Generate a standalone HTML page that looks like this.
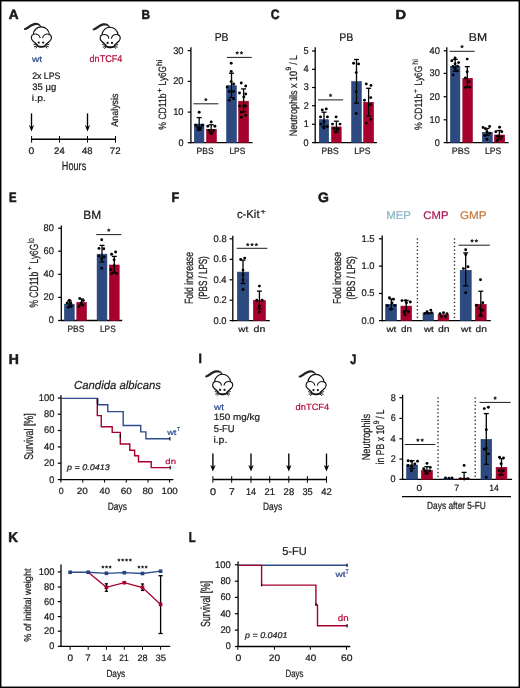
<!DOCTYPE html>
<html><head><meta charset="utf-8"><style>
html,body{margin:0;padding:0;background:#fff;}
body{width:520px;height:688px;overflow:hidden;position:relative;}
svg{position:absolute;left:0;top:0;display:block;}
text{font-family:"Liberation Sans", sans-serif;text-rendering:geometricPrecision;}
</style></head><body>
<div style="position:absolute;left:0;top:0;width:520px;height:688px;will-change:transform">
<svg width="520" height="688" viewBox="0 0 520 688">
<defs><symbol id="mouse" viewBox="0 0 520 462" overflow="visible">
<path d="M54,120 C96,118 138,54 205,42 C254,34 292,56 308,96 L294,102 C280,76 254,70 214,74 C160,84 116,142 62,144 Z" fill="#222"/>
<path d="M192,208 C196,142 246,100 305,99 C366,99 416,142 424,210" fill="none" stroke="#111" stroke-width="17"/>
<path d="M196,206 C162,214 152,266 182,298 C204,320 228,340 256,364 M422,208 C458,216 466,266 436,298 C414,320 390,340 362,364" fill="none" stroke="#111" stroke-width="17"/>
<path d="M198,206 C242,194 284,212 292,262" fill="none" stroke="#111" stroke-width="15"/>
<path d="M326,262 C334,212 376,194 420,208" fill="none" stroke="#111" stroke-width="15"/>
<circle cx="271" cy="326" r="16" fill="#111"/><circle cx="335" cy="326" r="16" fill="#111"/>
<path d="M238,350 C270,382 348,382 380,350 L364,390 C340,406 278,406 254,390 Z" fill="#111"/>
<path d="M250,364 L194,348 M250,374 L202,388 M254,382 L224,408 M368,364 L424,348 M368,374 L416,388 M364,382 L394,408" stroke="#1a1a1a" stroke-width="14" fill="none"/>
</symbol></defs>
<rect x="0" y="0" width="520" height="1" fill="#000"/><rect x="0" y="687" width="520" height="1" fill="#000"/><rect x="0" y="0" width="1" height="688" fill="#000"/><rect x="519" y="0" width="1" height="688" fill="#000"/><rect x="1" y="1" width="518" height="0.45" fill="#000"/><rect x="1" y="686.55" width="518" height="0.45" fill="#000"/><rect x="1" y="1" width="0.45" height="686" fill="#000"/><rect x="518.55" y="1" width="0.45" height="686" fill="#000"/>
<g fill="#1a1a1a">
<text x="8.85" y="19.23" font-size="13.37" textLength="9.83" lengthAdjust="spacingAndGlyphs" stroke="#1a1a1a" stroke-width="0.55" font-weight="bold">A</text>
<use href="#mouse" x="20" y="20" width="36" height="32"/>
<use href="#mouse" x="88.8" y="20.4" width="36" height="32"/>
<text x="32.01" y="62.49" font-size="8.33" textLength="10.07" lengthAdjust="spacingAndGlyphs" fill="#2e4c8c" stroke="#2e4c8c" stroke-width="0.22">wt</text>
<text x="89.56" y="62.29" font-size="9.77" textLength="32.74" lengthAdjust="spacingAndGlyphs" fill="#b4103e" stroke="#b4103e" stroke-width="0.22">dnTCF4</text>
<text x="32.15" y="78.89" font-size="9.43" textLength="28.36" lengthAdjust="spacingAndGlyphs" stroke="#1a1a1a" stroke-width="0.22">2x LPS</text>
<text x="32.23" y="89.69" font-size="9.43" textLength="24.06" lengthAdjust="spacingAndGlyphs" stroke="#1a1a1a" stroke-width="0.22">35 µg</text>
<text x="31.89" y="101.09" font-size="8.80" textLength="14.04" lengthAdjust="spacingAndGlyphs" stroke="#1a1a1a" stroke-width="0.22">i.p.</text>
<text x="117.99" y="126.63" font-size="9.85" textLength="33.08" lengthAdjust="spacingAndGlyphs" transform="rotate(-90 117.99 126.63)" stroke="#1a1a1a" stroke-width="0.22">Analysis</text>
<line x1="31.5" y1="113.4" x2="31.5" y2="128.5" stroke="#000" stroke-width="1.35"/>
<path d="M28.80,125.10 L31.50,131.50 L34.20,125.10 L31.50,126.90 Z" fill="#000"/>
<line x1="87.5" y1="113.4" x2="87.5" y2="128.5" stroke="#000" stroke-width="1.35"/>
<path d="M84.80,125.10 L87.50,131.50 L90.20,125.10 L87.50,126.90 Z" fill="#000"/>
<line x1="31.6" y1="139.2" x2="115.5" y2="139.2" stroke="#000" stroke-width="1.5"/>
<line x1="31.6" y1="136" x2="31.6" y2="142.7" stroke="#000" stroke-width="1.0"/>
<line x1="59.5" y1="136" x2="59.5" y2="142.7" stroke="#000" stroke-width="1.0"/>
<line x1="87.5" y1="136" x2="87.5" y2="142.7" stroke="#000" stroke-width="1.0"/>
<line x1="115.5" y1="136" x2="115.5" y2="142.7" stroke="#000" stroke-width="1.0"/>
<text x="28.59" y="154.09" font-size="9.57" textLength="5.82" lengthAdjust="spacingAndGlyphs" stroke="#1a1a1a" stroke-width="0.22">0</text>
<text x="54.12" y="154.09" font-size="9.57" textLength="10.54" lengthAdjust="spacingAndGlyphs" stroke="#1a1a1a" stroke-width="0.22">24</text>
<text x="82.08" y="154.09" font-size="9.57" textLength="10.53" lengthAdjust="spacingAndGlyphs" stroke="#1a1a1a" stroke-width="0.22">48</text>
<text x="109.81" y="154.09" font-size="9.57" textLength="10.79" lengthAdjust="spacingAndGlyphs" stroke="#1a1a1a" stroke-width="0.22">72</text>
<text x="61.84" y="169.79" font-size="12.33" textLength="24.37" lengthAdjust="spacingAndGlyphs" stroke="#1a1a1a" stroke-width="0.22">Hours</text>
<text x="141.47" y="18.98" font-size="13.01" textLength="8.55" lengthAdjust="spacingAndGlyphs" stroke="#1a1a1a" stroke-width="0.55" font-weight="bold">B</text>
<text x="214.64" y="40.59" font-size="11.45" textLength="13.87" lengthAdjust="spacingAndGlyphs" stroke="#1a1a1a" stroke-width="0.22">PB</text>
<line x1="190.9" y1="47.2" x2="190.9" y2="143.29999999999998" stroke="#000" stroke-width="1.3"/>
<line x1="190.3" y1="142.7" x2="252.5" y2="142.7" stroke="#000" stroke-width="1.3"/>
<line x1="187.70000000000002" y1="50.6" x2="190.9" y2="50.6" stroke="#000" stroke-width="1.2"/>
<text x="173.16" y="53.59" font-size="9.71" textLength="10.36" lengthAdjust="spacingAndGlyphs" stroke="#1a1a1a" stroke-width="0.22">30</text>
<line x1="187.70000000000002" y1="81.4" x2="190.9" y2="81.4" stroke="#000" stroke-width="1.2"/>
<text x="173.16" y="84.39" font-size="9.71" textLength="10.36" lengthAdjust="spacingAndGlyphs" stroke="#1a1a1a" stroke-width="0.22">20</text>
<line x1="187.70000000000002" y1="112.1" x2="190.9" y2="112.1" stroke="#000" stroke-width="1.2"/>
<text x="173.16" y="115.09" font-size="9.71" textLength="10.35" lengthAdjust="spacingAndGlyphs" stroke="#1a1a1a" stroke-width="0.22">10</text>
<line x1="187.70000000000002" y1="142.7" x2="190.9" y2="142.7" stroke="#000" stroke-width="1.2"/>
<text x="178.46" y="145.69" font-size="9.71" textLength="5.04" lengthAdjust="spacingAndGlyphs" stroke="#1a1a1a" stroke-width="0.22">0</text>
<text x="166.09" y="129.70" font-size="10.57" textLength="36.35" lengthAdjust="spacingAndGlyphs" transform="rotate(-90 166.09 129.70)" stroke="#1a1a1a" stroke-width="0.22">% CD11b</text>
<text x="161.89" y="92.54" font-size="7.24" textLength="4.28" lengthAdjust="spacingAndGlyphs" transform="rotate(-90 161.89 92.54)" stroke="#1a1a1a" stroke-width="0.22">+</text>
<text x="166.09" y="85.38" font-size="10.73" textLength="19.37" lengthAdjust="spacingAndGlyphs" transform="rotate(-90 166.09 85.38)" stroke="#1a1a1a" stroke-width="0.22">Ly6G</text>
<text x="162.19" y="65.95" font-size="7.97" textLength="6.38" lengthAdjust="spacingAndGlyphs" transform="rotate(-90 162.19 65.95)" stroke="#1a1a1a" stroke-width="0.22">hi</text>
<rect x="194.30" y="124.10" width="9.60" height="18.60" fill="#2d4a80" stroke="#1f3870" stroke-width="0.6"/>
<rect x="206.60" y="129.30" width="9.80" height="13.40" fill="#a8002c" stroke="#8e0024" stroke-width="0.6"/>
<rect x="226.70" y="85.70" width="9.60" height="57.00" fill="#2d4a80" stroke="#1f3870" stroke-width="0.6"/>
<rect x="238.70" y="101.20" width="9.90" height="41.50" fill="#a8002c" stroke="#8e0024" stroke-width="0.6"/>
<line x1="199.2" y1="117.6" x2="199.2" y2="130" stroke="#000" stroke-width="1.3"/>
<line x1="196.7" y1="117.6" x2="201.7" y2="117.6" stroke="#000" stroke-width="1.3"/>
<line x1="196.7" y1="130" x2="201.7" y2="130" stroke="#000" stroke-width="1.3"/>
<line x1="211.2" y1="124.7" x2="211.2" y2="133.3" stroke="#000" stroke-width="1.3"/>
<line x1="208.7" y1="124.7" x2="213.7" y2="124.7" stroke="#000" stroke-width="1.3"/>
<line x1="208.7" y1="133.3" x2="213.7" y2="133.3" stroke="#000" stroke-width="1.3"/>
<line x1="231.5" y1="73.2" x2="231.5" y2="97.6" stroke="#000" stroke-width="1.3"/>
<line x1="229.0" y1="73.2" x2="234.0" y2="73.2" stroke="#000" stroke-width="1.3"/>
<line x1="229.0" y1="97.6" x2="234.0" y2="97.6" stroke="#000" stroke-width="1.3"/>
<line x1="243.6" y1="88.9" x2="243.6" y2="112.1" stroke="#000" stroke-width="1.3"/>
<line x1="241.1" y1="88.9" x2="246.1" y2="88.9" stroke="#000" stroke-width="1.3"/>
<line x1="241.1" y1="112.1" x2="246.1" y2="112.1" stroke="#000" stroke-width="1.3"/>
<circle cx="199.2" cy="112.3" r="1.45" fill="#000"/>
<circle cx="195.8" cy="125.3" r="1.45" fill="#000"/>
<circle cx="202.6" cy="125.3" r="1.45" fill="#000"/>
<circle cx="197.8" cy="127.8" r="1.45" fill="#000"/>
<circle cx="200.8" cy="127.8" r="1.45" fill="#000"/>
<circle cx="199.2" cy="129.6" r="1.45" fill="#000"/>
<circle cx="211.2" cy="121.9" r="1.45" fill="#000"/>
<circle cx="207.8" cy="126.2" r="1.45" fill="#000"/>
<circle cx="214.9" cy="126.2" r="1.45" fill="#000"/>
<circle cx="209" cy="130.5" r="1.45" fill="#000"/>
<circle cx="213.5" cy="130.5" r="1.45" fill="#000"/>
<circle cx="211.2" cy="133.5" r="1.45" fill="#000"/>
<circle cx="231.2" cy="63.2" r="1.45" fill="#000"/>
<circle cx="231.2" cy="71.4" r="1.45" fill="#000"/>
<circle cx="231.2" cy="81.6" r="1.45" fill="#000"/>
<circle cx="227.1" cy="87.1" r="1.45" fill="#000"/>
<circle cx="233.6" cy="84" r="1.45" fill="#000"/>
<circle cx="229.3" cy="91.5" r="1.45" fill="#000"/>
<circle cx="233.6" cy="91.5" r="1.45" fill="#000"/>
<circle cx="229.3" cy="100.2" r="1.45" fill="#000"/>
<circle cx="233.6" cy="98.7" r="1.45" fill="#000"/>
<circle cx="241.3" cy="83" r="1.45" fill="#000"/>
<circle cx="245.7" cy="86" r="1.45" fill="#000"/>
<circle cx="239.5" cy="93" r="1.45" fill="#000"/>
<circle cx="245.7" cy="94" r="1.45" fill="#000"/>
<circle cx="243.8" cy="97" r="1.45" fill="#000"/>
<circle cx="243.8" cy="106" r="1.45" fill="#000"/>
<circle cx="239.5" cy="106" r="1.45" fill="#000"/>
<circle cx="245.7" cy="106" r="1.45" fill="#000"/>
<circle cx="241.3" cy="112.1" r="1.45" fill="#000"/>
<circle cx="245.7" cy="115.4" r="1.45" fill="#000"/>
<circle cx="241.3" cy="117.3" r="1.45" fill="#000"/>
<line x1="193.4" y1="103.8" x2="218.4" y2="103.8" stroke="#1a1a1a" stroke-width="1.0"/>
<polygon points="205.90,97.60 206.55,98.71 207.80,98.98 206.95,99.94 207.08,101.22 205.90,100.70 204.72,101.22 204.85,99.94 204.00,98.98 205.25,98.71" fill="#222"/>
<line x1="226.8" y1="57.4" x2="251.8" y2="57.4" stroke="#1a1a1a" stroke-width="1.0"/>
<polygon points="237.15,50.80 237.80,51.91 239.05,52.18 238.20,53.14 238.33,54.42 237.15,53.90 235.97,54.42 236.10,53.14 235.25,52.18 236.50,51.91" fill="#222"/>
<polygon points="241.45,50.80 242.10,51.91 243.35,52.18 242.50,53.14 242.63,54.42 241.45,53.90 240.27,54.42 240.40,53.14 239.55,52.18 240.80,51.91" fill="#222"/>
<text x="196.49" y="153.64" font-size="9.00" textLength="17.19" lengthAdjust="spacingAndGlyphs" stroke="#1a1a1a" stroke-width="0.22">PBS</text>
<text x="229.40" y="153.64" font-size="9.00" textLength="15.87" lengthAdjust="spacingAndGlyphs" stroke="#1a1a1a" stroke-width="0.22">LPS</text>
<text x="270.79" y="19.23" font-size="13.54" textLength="8.81" lengthAdjust="spacingAndGlyphs" stroke="#1a1a1a" stroke-width="0.55" font-weight="bold">C</text>
<text x="339.22" y="40.59" font-size="11.02" textLength="14.10" lengthAdjust="spacingAndGlyphs" stroke="#1a1a1a" stroke-width="0.22">PB</text>
<line x1="315.2" y1="47.2" x2="315.2" y2="143.29999999999998" stroke="#000" stroke-width="1.3"/>
<line x1="314.6" y1="142.7" x2="376.9" y2="142.7" stroke="#000" stroke-width="1.3"/>
<line x1="312.0" y1="51" x2="315.2" y2="51" stroke="#000" stroke-width="1.2"/>
<text x="303.54" y="53.99" font-size="9.85" textLength="5.12" lengthAdjust="spacingAndGlyphs" stroke="#1a1a1a" stroke-width="0.22">5</text>
<line x1="312.0" y1="69.3" x2="315.2" y2="69.3" stroke="#000" stroke-width="1.2"/>
<text x="303.42" y="72.29" font-size="9.85" textLength="5.13" lengthAdjust="spacingAndGlyphs" stroke="#1a1a1a" stroke-width="0.22">4</text>
<line x1="312.0" y1="87.5" x2="315.2" y2="87.5" stroke="#000" stroke-width="1.2"/>
<text x="303.65" y="90.49" font-size="9.71" textLength="5.04" lengthAdjust="spacingAndGlyphs" stroke="#1a1a1a" stroke-width="0.22">3</text>
<line x1="312.0" y1="105.7" x2="315.2" y2="105.7" stroke="#000" stroke-width="1.2"/>
<text x="303.73" y="108.69" font-size="9.71" textLength="5.03" lengthAdjust="spacingAndGlyphs" stroke="#1a1a1a" stroke-width="0.22">2</text>
<line x1="312.0" y1="124.3" x2="315.2" y2="124.3" stroke="#000" stroke-width="1.2"/>
<text x="303.64" y="127.29" font-size="9.85" textLength="5.09" lengthAdjust="spacingAndGlyphs" stroke="#1a1a1a" stroke-width="0.22">1</text>
<line x1="312.0" y1="142.6" x2="315.2" y2="142.6" stroke="#000" stroke-width="1.2"/>
<text x="303.61" y="145.59" font-size="9.71" textLength="5.04" lengthAdjust="spacingAndGlyphs" stroke="#1a1a1a" stroke-width="0.22">0</text>
<text x="296.79" y="136.25" font-size="10.73" textLength="65.42" lengthAdjust="spacingAndGlyphs" transform="rotate(-90 296.79 136.25)" stroke="#1a1a1a" stroke-width="0.22">Neutrophils x 10</text>
<text x="291.49" y="70.51" font-size="7.85" textLength="3.72" lengthAdjust="spacingAndGlyphs" transform="rotate(-90 291.49 70.51)" stroke="#1a1a1a" stroke-width="0.22">9</text>
<text x="296.79" y="64.79" font-size="10.73" textLength="9.45" lengthAdjust="spacingAndGlyphs" transform="rotate(-90 296.79 64.79)" stroke="#1a1a1a" stroke-width="0.22">/ L</text>
<rect x="319.30" y="119.70" width="9.30" height="23.00" fill="#2d4a80" stroke="#1f3870" stroke-width="0.6"/>
<rect x="331.60" y="126.90" width="9.60" height="15.80" fill="#a8002c" stroke="#8e0024" stroke-width="0.6"/>
<rect x="351.70" y="81.60" width="9.60" height="61.10" fill="#2d4a80" stroke="#1f3870" stroke-width="0.6"/>
<rect x="363.70" y="102.30" width="9.90" height="40.40" fill="#a8002c" stroke="#8e0024" stroke-width="0.6"/>
<line x1="324" y1="112.2" x2="324" y2="126.6" stroke="#000" stroke-width="1.3"/>
<line x1="321.5" y1="112.2" x2="326.5" y2="112.2" stroke="#000" stroke-width="1.3"/>
<line x1="321.5" y1="126.6" x2="326.5" y2="126.6" stroke="#000" stroke-width="1.3"/>
<line x1="336.4" y1="121.2" x2="336.4" y2="132" stroke="#000" stroke-width="1.3"/>
<line x1="333.9" y1="121.2" x2="338.9" y2="121.2" stroke="#000" stroke-width="1.3"/>
<line x1="333.9" y1="132" x2="338.9" y2="132" stroke="#000" stroke-width="1.3"/>
<line x1="356.5" y1="59.5" x2="356.5" y2="103.1" stroke="#000" stroke-width="1.3"/>
<line x1="354.0" y1="59.5" x2="359.0" y2="59.5" stroke="#000" stroke-width="1.3"/>
<line x1="354.0" y1="103.1" x2="359.0" y2="103.1" stroke="#000" stroke-width="1.3"/>
<line x1="368.6" y1="88.3" x2="368.6" y2="116.2" stroke="#000" stroke-width="1.3"/>
<line x1="366.1" y1="88.3" x2="371.1" y2="88.3" stroke="#000" stroke-width="1.3"/>
<line x1="366.1" y1="116.2" x2="371.1" y2="116.2" stroke="#000" stroke-width="1.3"/>
<circle cx="322.3" cy="110" r="1.45" fill="#000"/>
<circle cx="326.3" cy="108.9" r="1.45" fill="#000"/>
<circle cx="320.5" cy="116.9" r="1.45" fill="#000"/>
<circle cx="327.4" cy="116.9" r="1.45" fill="#000"/>
<circle cx="320.9" cy="124.1" r="1.45" fill="#000"/>
<circle cx="324" cy="121.5" r="1.45" fill="#000"/>
<circle cx="327.4" cy="126.5" r="1.45" fill="#000"/>
<circle cx="323.8" cy="128.1" r="1.45" fill="#000"/>
<circle cx="336.1" cy="116.9" r="1.45" fill="#000"/>
<circle cx="332.5" cy="124.1" r="1.45" fill="#000"/>
<circle cx="340" cy="124.1" r="1.45" fill="#000"/>
<circle cx="334" cy="128.5" r="1.45" fill="#000"/>
<circle cx="338.3" cy="129" r="1.45" fill="#000"/>
<circle cx="335.5" cy="132" r="1.45" fill="#000"/>
<circle cx="353.6" cy="63.2" r="1.45" fill="#000"/>
<circle cx="358.6" cy="63.9" r="1.45" fill="#000"/>
<circle cx="356.2" cy="72.6" r="1.45" fill="#000"/>
<circle cx="356.2" cy="91.8" r="1.45" fill="#000"/>
<circle cx="356.2" cy="113.5" r="1.45" fill="#000"/>
<circle cx="366.3" cy="83.9" r="1.45" fill="#000"/>
<circle cx="371" cy="85.4" r="1.45" fill="#000"/>
<circle cx="364.5" cy="100.2" r="1.45" fill="#000"/>
<circle cx="370.7" cy="97.6" r="1.45" fill="#000"/>
<circle cx="370.7" cy="104.8" r="1.45" fill="#000"/>
<circle cx="370.7" cy="119.4" r="1.45" fill="#000"/>
<circle cx="366.3" cy="123.1" r="1.45" fill="#000"/>
<line x1="318" y1="99.9" x2="343.1" y2="99.9" stroke="#1a1a1a" stroke-width="1.0"/>
<polygon points="330.55,93.30 331.20,94.41 332.45,94.68 331.60,95.64 331.73,96.92 330.55,96.40 329.37,96.92 329.50,95.64 328.65,94.68 329.90,94.41" fill="#222"/>
<text x="321.59" y="153.69" font-size="9.28" textLength="17.08" lengthAdjust="spacingAndGlyphs" stroke="#1a1a1a" stroke-width="0.22">PBS</text>
<text x="354.19" y="153.69" font-size="9.28" textLength="16.30" lengthAdjust="spacingAndGlyphs" stroke="#1a1a1a" stroke-width="0.22">LPS</text>
<text x="395.53" y="18.98" font-size="13.01" textLength="10.56" lengthAdjust="spacingAndGlyphs" stroke="#1a1a1a" stroke-width="0.55" font-weight="bold">D</text>
<text x="468.89" y="40.59" font-size="11.45" textLength="18.17" lengthAdjust="spacingAndGlyphs" stroke="#1a1a1a" stroke-width="0.22">BM</text>
<line x1="446.8" y1="47.2" x2="446.8" y2="143.2" stroke="#000" stroke-width="1.3"/>
<line x1="446.2" y1="142.6" x2="508.5" y2="142.6" stroke="#000" stroke-width="1.3"/>
<line x1="443.6" y1="50.8" x2="446.8" y2="50.8" stroke="#000" stroke-width="1.2"/>
<text x="429.50" y="53.79" font-size="9.71" textLength="10.36" lengthAdjust="spacingAndGlyphs" stroke="#1a1a1a" stroke-width="0.22">40</text>
<line x1="443.6" y1="73.4" x2="446.8" y2="73.4" stroke="#000" stroke-width="1.2"/>
<text x="429.51" y="76.39" font-size="9.71" textLength="10.36" lengthAdjust="spacingAndGlyphs" stroke="#1a1a1a" stroke-width="0.22">30</text>
<line x1="443.6" y1="96.7" x2="446.8" y2="96.7" stroke="#000" stroke-width="1.2"/>
<text x="429.51" y="99.69" font-size="9.71" textLength="10.36" lengthAdjust="spacingAndGlyphs" stroke="#1a1a1a" stroke-width="0.22">20</text>
<line x1="443.6" y1="119.8" x2="446.8" y2="119.8" stroke="#000" stroke-width="1.2"/>
<text x="429.51" y="122.79" font-size="9.71" textLength="10.35" lengthAdjust="spacingAndGlyphs" stroke="#1a1a1a" stroke-width="0.22">10</text>
<line x1="443.6" y1="142.6" x2="446.8" y2="142.6" stroke="#000" stroke-width="1.2"/>
<text x="434.81" y="145.59" font-size="9.71" textLength="5.04" lengthAdjust="spacingAndGlyphs" stroke="#1a1a1a" stroke-width="0.22">0</text>
<text x="422.19" y="130.00" font-size="10.57" textLength="36.35" lengthAdjust="spacingAndGlyphs" transform="rotate(-90 422.19 130.00)" stroke="#1a1a1a" stroke-width="0.22">% CD11b</text>
<text x="418.29" y="93.02" font-size="7.24" textLength="4.04" lengthAdjust="spacingAndGlyphs" transform="rotate(-90 418.29 93.02)" stroke="#1a1a1a" stroke-width="0.22">+</text>
<text x="422.19" y="85.39" font-size="10.73" textLength="19.59" lengthAdjust="spacingAndGlyphs" transform="rotate(-90 422.19 85.39)" stroke="#1a1a1a" stroke-width="0.22">Ly6G</text>
<text x="418.49" y="64.77" font-size="8.25" textLength="5.54" lengthAdjust="spacingAndGlyphs" transform="rotate(-90 418.49 64.77)" stroke="#1a1a1a" stroke-width="0.22">hi</text>
<rect x="450.50" y="66.30" width="9.40" height="76.30" fill="#2d4a80" stroke="#1f3870" stroke-width="0.6"/>
<rect x="462.80" y="78.30" width="9.60" height="64.30" fill="#a8002c" stroke="#8e0024" stroke-width="0.6"/>
<rect x="482.40" y="132.30" width="9.90" height="10.30" fill="#2d4a80" stroke="#1f3870" stroke-width="0.6"/>
<rect x="494.40" y="135.00" width="10.30" height="7.60" fill="#a8002c" stroke="#8e0024" stroke-width="0.6"/>
<line x1="455.2" y1="59.4" x2="455.2" y2="71.2" stroke="#000" stroke-width="1.3"/>
<line x1="452.7" y1="59.4" x2="457.7" y2="59.4" stroke="#000" stroke-width="1.3"/>
<line x1="452.7" y1="71.2" x2="457.7" y2="71.2" stroke="#000" stroke-width="1.3"/>
<line x1="467.3" y1="66.6" x2="467.3" y2="87.2" stroke="#000" stroke-width="1.3"/>
<line x1="464.8" y1="66.6" x2="469.8" y2="66.6" stroke="#000" stroke-width="1.3"/>
<line x1="464.8" y1="87.2" x2="469.8" y2="87.2" stroke="#000" stroke-width="1.3"/>
<line x1="487" y1="128.5" x2="487" y2="135.5" stroke="#000" stroke-width="1.3"/>
<line x1="484.5" y1="128.5" x2="489.5" y2="128.5" stroke="#000" stroke-width="1.3"/>
<line x1="484.5" y1="135.5" x2="489.5" y2="135.5" stroke="#000" stroke-width="1.3"/>
<line x1="499.3" y1="130.5" x2="499.3" y2="139" stroke="#000" stroke-width="1.3"/>
<line x1="496.8" y1="130.5" x2="501.8" y2="130.5" stroke="#000" stroke-width="1.3"/>
<line x1="496.8" y1="139" x2="501.8" y2="139" stroke="#000" stroke-width="1.3"/>
<circle cx="455.1" cy="57.9" r="1.45" fill="#000"/>
<circle cx="451.85" cy="60.8" r="1.45" fill="#000"/>
<circle cx="458.6" cy="62.6" r="1.45" fill="#000"/>
<circle cx="455.1" cy="63.85" r="1.45" fill="#000"/>
<circle cx="455.1" cy="68.5" r="1.45" fill="#000"/>
<circle cx="457.4" cy="70.9" r="1.45" fill="#000"/>
<circle cx="453.1" cy="74.9" r="1.45" fill="#000"/>
<circle cx="453" cy="66.5" r="1.45" fill="#000"/>
<circle cx="457.5" cy="66.3" r="1.45" fill="#000"/>
<circle cx="467.2" cy="59.1" r="1.45" fill="#000"/>
<circle cx="467.2" cy="71.8" r="1.45" fill="#000"/>
<circle cx="465.4" cy="78" r="1.45" fill="#000"/>
<circle cx="469.1" cy="81.7" r="1.45" fill="#000"/>
<circle cx="465.4" cy="87.5" r="1.45" fill="#000"/>
<circle cx="469.7" cy="87.2" r="1.45" fill="#000"/>
<circle cx="483.1" cy="127.5" r="1.45" fill="#000"/>
<circle cx="489.6" cy="126.5" r="1.45" fill="#000"/>
<circle cx="485.4" cy="128.7" r="1.45" fill="#000"/>
<circle cx="486.9" cy="131.7" r="1.45" fill="#000"/>
<circle cx="489.6" cy="133.2" r="1.45" fill="#000"/>
<circle cx="484.6" cy="135.5" r="1.45" fill="#000"/>
<circle cx="486.9" cy="139.2" r="1.45" fill="#000"/>
<circle cx="499.6" cy="127.3" r="1.45" fill="#000"/>
<circle cx="495.8" cy="131.7" r="1.45" fill="#000"/>
<circle cx="501.8" cy="131.7" r="1.45" fill="#000"/>
<circle cx="497.6" cy="136.2" r="1.45" fill="#000"/>
<circle cx="501.8" cy="137" r="1.45" fill="#000"/>
<circle cx="497.2" cy="140.7" r="1.45" fill="#000"/>
<line x1="449.5" y1="51.3" x2="474.6" y2="51.3" stroke="#1a1a1a" stroke-width="1.0"/>
<polygon points="462.05,44.60 462.70,45.71 463.95,45.98 463.10,46.94 463.23,48.22 462.05,47.70 460.87,48.22 461.00,46.94 460.15,45.98 461.40,45.71" fill="#222"/>
<text x="451.86" y="153.69" font-size="9.28" textLength="17.94" lengthAdjust="spacingAndGlyphs" stroke="#1a1a1a" stroke-width="0.22">PBS</text>
<text x="484.88" y="153.69" font-size="9.28" textLength="16.41" lengthAdjust="spacingAndGlyphs" stroke="#1a1a1a" stroke-width="0.22">LPS</text>
<text x="8.90" y="201.53" font-size="13.74" textLength="7.56" lengthAdjust="spacingAndGlyphs" stroke="#1a1a1a" stroke-width="0.55" font-weight="bold">E</text>
<text x="83.21" y="218.59" font-size="12.03" textLength="17.83" lengthAdjust="spacingAndGlyphs" stroke="#1a1a1a" stroke-width="0.22">BM</text>
<line x1="61.3" y1="225.5" x2="61.3" y2="321.1" stroke="#000" stroke-width="1.3"/>
<line x1="60.7" y1="320.5" x2="122.2" y2="320.5" stroke="#000" stroke-width="1.3"/>
<line x1="58.099999999999994" y1="228.2" x2="61.3" y2="228.2" stroke="#000" stroke-width="1.2"/>
<text x="43.51" y="231.19" font-size="9.71" textLength="10.36" lengthAdjust="spacingAndGlyphs" stroke="#1a1a1a" stroke-width="0.22">80</text>
<line x1="58.099999999999994" y1="251.2" x2="61.3" y2="251.2" stroke="#000" stroke-width="1.2"/>
<text x="43.51" y="254.19" font-size="9.71" textLength="10.36" lengthAdjust="spacingAndGlyphs" stroke="#1a1a1a" stroke-width="0.22">60</text>
<line x1="58.099999999999994" y1="274.3" x2="61.3" y2="274.3" stroke="#000" stroke-width="1.2"/>
<text x="43.50" y="277.29" font-size="9.71" textLength="10.36" lengthAdjust="spacingAndGlyphs" stroke="#1a1a1a" stroke-width="0.22">40</text>
<line x1="58.099999999999994" y1="297.4" x2="61.3" y2="297.4" stroke="#000" stroke-width="1.2"/>
<text x="43.51" y="300.39" font-size="9.71" textLength="10.36" lengthAdjust="spacingAndGlyphs" stroke="#1a1a1a" stroke-width="0.22">20</text>
<line x1="58.099999999999994" y1="320.5" x2="61.3" y2="320.5" stroke="#000" stroke-width="1.2"/>
<text x="48.81" y="323.49" font-size="9.71" textLength="5.04" lengthAdjust="spacingAndGlyphs" stroke="#1a1a1a" stroke-width="0.22">0</text>
<text x="37.64" y="307.60" font-size="12.22" textLength="35.94" lengthAdjust="spacingAndGlyphs" transform="rotate(-90 37.64 307.60)" stroke="#1a1a1a" stroke-width="0.22">% CD11b</text>
<text x="32.39" y="269.87" font-size="7.07" textLength="3.45" lengthAdjust="spacingAndGlyphs" transform="rotate(-90 32.39 269.87)" stroke="#1a1a1a" stroke-width="0.22">+</text>
<text x="37.64" y="263.39" font-size="11.82" textLength="19.59" lengthAdjust="spacingAndGlyphs" transform="rotate(-90 37.64 263.39)" stroke="#1a1a1a" stroke-width="0.22">Ly6G</text>
<text x="33.89" y="243.13" font-size="9.21" textLength="5.07" lengthAdjust="spacingAndGlyphs" transform="rotate(-90 33.89 243.13)" stroke="#1a1a1a" stroke-width="0.22">lo</text>
<rect x="64.50" y="304.30" width="9.70" height="16.20" fill="#2d4a80" stroke="#1f3870" stroke-width="0.6"/>
<rect x="76.80" y="302.40" width="9.70" height="18.10" fill="#a8002c" stroke="#8e0024" stroke-width="0.6"/>
<rect x="97.10" y="254.20" width="9.80" height="66.30" fill="#2d4a80" stroke="#1f3870" stroke-width="0.6"/>
<rect x="109.40" y="265.00" width="9.80" height="55.50" fill="#a8002c" stroke="#8e0024" stroke-width="0.6"/>
<line x1="69.4" y1="301" x2="69.4" y2="307" stroke="#000" stroke-width="1.3"/>
<line x1="66.9" y1="301" x2="71.9" y2="301" stroke="#000" stroke-width="1.3"/>
<line x1="66.9" y1="307" x2="71.9" y2="307" stroke="#000" stroke-width="1.3"/>
<line x1="81.6" y1="299" x2="81.6" y2="305" stroke="#000" stroke-width="1.3"/>
<line x1="79.1" y1="299" x2="84.1" y2="299" stroke="#000" stroke-width="1.3"/>
<line x1="79.1" y1="305" x2="84.1" y2="305" stroke="#000" stroke-width="1.3"/>
<line x1="102" y1="245.4" x2="102" y2="262" stroke="#000" stroke-width="1.3"/>
<line x1="99.5" y1="245.4" x2="104.5" y2="245.4" stroke="#000" stroke-width="1.3"/>
<line x1="99.5" y1="262" x2="104.5" y2="262" stroke="#000" stroke-width="1.3"/>
<line x1="114.3" y1="256.4" x2="114.3" y2="273" stroke="#000" stroke-width="1.3"/>
<line x1="111.8" y1="256.4" x2="116.8" y2="256.4" stroke="#000" stroke-width="1.3"/>
<line x1="111.8" y1="273" x2="116.8" y2="273" stroke="#000" stroke-width="1.3"/>
<circle cx="69.4" cy="300.3" r="1.45" fill="#000"/>
<circle cx="67.2" cy="303.3" r="1.45" fill="#000"/>
<circle cx="70.8" cy="303.3" r="1.45" fill="#000"/>
<circle cx="68.6" cy="307.3" r="1.45" fill="#000"/>
<circle cx="71.5" cy="306" r="1.45" fill="#000"/>
<circle cx="79.7" cy="298.4" r="1.45" fill="#000"/>
<circle cx="83.4" cy="300.6" r="1.45" fill="#000"/>
<circle cx="79" cy="306.5" r="1.45" fill="#000"/>
<circle cx="82.7" cy="305" r="1.45" fill="#000"/>
<circle cx="81.2" cy="303" r="1.45" fill="#000"/>
<circle cx="101.7" cy="239.8" r="1.45" fill="#000"/>
<circle cx="99" cy="248.4" r="1.45" fill="#000"/>
<circle cx="103.8" cy="248.7" r="1.45" fill="#000"/>
<circle cx="99" cy="256.1" r="1.45" fill="#000"/>
<circle cx="104.2" cy="256.9" r="1.45" fill="#000"/>
<circle cx="101.7" cy="258.8" r="1.45" fill="#000"/>
<circle cx="101.7" cy="268.3" r="1.45" fill="#000"/>
<circle cx="115.6" cy="252" r="1.45" fill="#000"/>
<circle cx="111.6" cy="254.3" r="1.45" fill="#000"/>
<circle cx="114.1" cy="259.8" r="1.45" fill="#000"/>
<circle cx="114.1" cy="265.7" r="1.45" fill="#000"/>
<circle cx="110.9" cy="269.8" r="1.45" fill="#000"/>
<circle cx="114.1" cy="271.7" r="1.45" fill="#000"/>
<circle cx="116.8" cy="273.6" r="1.45" fill="#000"/>
<circle cx="111.6" cy="273.6" r="1.45" fill="#000"/>
<line x1="96.3" y1="234.6" x2="121.3" y2="234.6" stroke="#1a1a1a" stroke-width="1.0"/>
<polygon points="108.80,228.20 109.45,229.31 110.70,229.58 109.85,230.54 109.98,231.82 108.80,231.30 107.62,231.82 107.75,230.54 106.90,229.58 108.15,229.31" fill="#222"/>
<text x="67.40" y="331.69" font-size="9.28" textLength="16.87" lengthAdjust="spacingAndGlyphs" stroke="#1a1a1a" stroke-width="0.22">PBS</text>
<text x="100.01" y="331.69" font-size="9.28" textLength="15.66" lengthAdjust="spacingAndGlyphs" stroke="#1a1a1a" stroke-width="0.22">LPS</text>
<text x="171.62" y="201.53" font-size="13.74" textLength="7.64" lengthAdjust="spacingAndGlyphs" stroke="#1a1a1a" stroke-width="0.55" font-weight="bold">F</text>
<text x="236.91" y="218.49" font-size="11.45" textLength="22.62" lengthAdjust="spacingAndGlyphs" stroke="#1a1a1a" stroke-width="0.22">c-Kit</text>
<text x="260.48" y="214.29" font-size="6.90" textLength="5.24" lengthAdjust="spacingAndGlyphs" stroke="#1a1a1a" stroke-width="0.22">+</text>
<line x1="232.8" y1="235.7" x2="232.8" y2="321.20000000000005" stroke="#000" stroke-width="1.3"/>
<line x1="232.2" y1="320.6" x2="269.8" y2="320.6" stroke="#000" stroke-width="1.3"/>
<line x1="229.60000000000002" y1="238.8" x2="232.8" y2="238.8" stroke="#000" stroke-width="1.2"/>
<text x="213.61" y="241.79" font-size="9.71" textLength="13.01" lengthAdjust="spacingAndGlyphs" stroke="#1a1a1a" stroke-width="0.22">0.8</text>
<line x1="229.60000000000002" y1="259.3" x2="232.8" y2="259.3" stroke="#000" stroke-width="1.2"/>
<text x="213.61" y="262.29" font-size="9.71" textLength="13.01" lengthAdjust="spacingAndGlyphs" stroke="#1a1a1a" stroke-width="0.22">0.6</text>
<line x1="229.60000000000002" y1="279.8" x2="232.8" y2="279.8" stroke="#000" stroke-width="1.2"/>
<text x="213.46" y="282.79" font-size="9.71" textLength="13.01" lengthAdjust="spacingAndGlyphs" stroke="#1a1a1a" stroke-width="0.22">0.4</text>
<line x1="229.60000000000002" y1="300.2" x2="232.8" y2="300.2" stroke="#000" stroke-width="1.2"/>
<text x="213.69" y="303.19" font-size="9.71" textLength="13.01" lengthAdjust="spacingAndGlyphs" stroke="#1a1a1a" stroke-width="0.22">0.2</text>
<line x1="229.60000000000002" y1="320.6" x2="232.8" y2="320.6" stroke="#000" stroke-width="1.2"/>
<text x="213.57" y="323.59" font-size="9.71" textLength="13.01" lengthAdjust="spacingAndGlyphs" stroke="#1a1a1a" stroke-width="0.22">0.0</text>
<text x="192.79" y="304.02" font-size="11.89" textLength="51.98" lengthAdjust="spacingAndGlyphs" transform="rotate(-90 192.79 304.02)" stroke="#1a1a1a" stroke-width="0.22">Fold increase</text>
<text x="206.89" y="299.50" font-size="11.89" textLength="43.30" lengthAdjust="spacingAndGlyphs" transform="rotate(-90 206.89 299.50)" stroke="#1a1a1a" stroke-width="0.22">(PBS / LPS)</text>
<rect x="237.40" y="272.10" width="11.40" height="48.50" fill="#2d4a80" stroke="#1f3870" stroke-width="0.6"/>
<rect x="253.40" y="300.50" width="12.10" height="20.10" fill="#a8002c" stroke="#8e0024" stroke-width="0.6"/>
<line x1="243" y1="260.1" x2="243" y2="283.5" stroke="#000" stroke-width="1.3"/>
<line x1="240.5" y1="260.1" x2="245.5" y2="260.1" stroke="#000" stroke-width="1.3"/>
<line x1="240.5" y1="283.5" x2="245.5" y2="283.5" stroke="#000" stroke-width="1.3"/>
<line x1="259.4" y1="291.1" x2="259.4" y2="308.9" stroke="#000" stroke-width="1.3"/>
<line x1="256.9" y1="291.1" x2="261.9" y2="291.1" stroke="#000" stroke-width="1.3"/>
<line x1="256.9" y1="308.9" x2="261.9" y2="308.9" stroke="#000" stroke-width="1.3"/>
<circle cx="240.7" cy="259.4" r="1.45" fill="#000"/>
<circle cx="244.7" cy="258.1" r="1.45" fill="#000"/>
<circle cx="243" cy="270.1" r="1.45" fill="#000"/>
<circle cx="243" cy="275" r="1.45" fill="#000"/>
<circle cx="243" cy="279.8" r="1.45" fill="#000"/>
<circle cx="243" cy="289.5" r="1.45" fill="#000"/>
<circle cx="259.4" cy="286.1" r="1.45" fill="#000"/>
<circle cx="256.8" cy="300.2" r="1.45" fill="#000"/>
<circle cx="262.1" cy="300.2" r="1.45" fill="#000"/>
<circle cx="259.4" cy="306.2" r="1.45" fill="#000"/>
<circle cx="259.4" cy="312" r="1.45" fill="#000"/>
<line x1="236.7" y1="248.3" x2="267.4" y2="248.3" stroke="#1a1a1a" stroke-width="1.0"/>
<polygon points="247.75,242.70 248.40,243.81 249.65,244.08 248.80,245.04 248.93,246.32 247.75,245.80 246.57,246.32 246.70,245.04 245.85,244.08 247.10,243.81" fill="#222"/>
<polygon points="252.05,242.70 252.70,243.81 253.95,244.08 253.10,245.04 253.23,246.32 252.05,245.80 250.87,246.32 251.00,245.04 250.15,244.08 251.40,243.81" fill="#222"/>
<polygon points="256.35,242.70 257.00,243.81 258.25,244.08 257.40,245.04 257.53,246.32 256.35,245.80 255.17,246.32 255.30,245.04 254.45,244.08 255.70,243.81" fill="#222"/>
<text x="238.31" y="331.69" font-size="8.17" textLength="9.92" lengthAdjust="spacingAndGlyphs" stroke="#1a1a1a" stroke-width="0.22">wt</text>
<text x="253.55" y="331.69" font-size="8.94" textLength="11.72" lengthAdjust="spacingAndGlyphs" stroke="#1a1a1a" stroke-width="0.22">dn</text>
<text x="317.92" y="201.53" font-size="13.54" textLength="10.87" lengthAdjust="spacingAndGlyphs" stroke="#1a1a1a" stroke-width="0.55" font-weight="bold">G</text>
<text x="386.15" y="218.69" font-size="11.31" textLength="24.83" lengthAdjust="spacingAndGlyphs" fill="#8cb6c8" stroke="#8cb6c8" stroke-width="0.22">MEP</text>
<text x="423.32" y="218.69" font-size="11.15" textLength="25.14" lengthAdjust="spacingAndGlyphs" fill="#a8195a" stroke="#a8195a" stroke-width="0.22">CMP</text>
<text x="460.00" y="218.69" font-size="11.15" textLength="26.67" lengthAdjust="spacingAndGlyphs" fill="#c8783a" stroke="#c8783a" stroke-width="0.22">GMP</text>
<line x1="382.2" y1="235.5" x2="382.2" y2="321.20000000000005" stroke="#000" stroke-width="1.3"/>
<line x1="381.6" y1="320.6" x2="490.8" y2="320.6" stroke="#000" stroke-width="1.3"/>
<line x1="379.0" y1="238.8" x2="382.2" y2="238.8" stroke="#000" stroke-width="1.2"/>
<text x="361.39" y="241.79" font-size="9.85" textLength="13.20" lengthAdjust="spacingAndGlyphs" stroke="#1a1a1a" stroke-width="0.22">1.5</text>
<line x1="379.0" y1="266.1" x2="382.2" y2="266.1" stroke="#000" stroke-width="1.2"/>
<text x="361.58" y="269.09" font-size="9.71" textLength="13.00" lengthAdjust="spacingAndGlyphs" stroke="#1a1a1a" stroke-width="0.22">1.0</text>
<line x1="379.0" y1="293.5" x2="382.2" y2="293.5" stroke="#000" stroke-width="1.2"/>
<text x="361.57" y="296.49" font-size="9.71" textLength="13.01" lengthAdjust="spacingAndGlyphs" stroke="#1a1a1a" stroke-width="0.22">0.5</text>
<line x1="379.0" y1="320.6" x2="382.2" y2="320.6" stroke="#000" stroke-width="1.2"/>
<text x="361.57" y="323.59" font-size="9.71" textLength="13.01" lengthAdjust="spacingAndGlyphs" stroke="#1a1a1a" stroke-width="0.22">0.0</text>
<text x="341.19" y="304.02" font-size="11.45" textLength="51.98" lengthAdjust="spacingAndGlyphs" transform="rotate(-90 341.19 304.02)" stroke="#1a1a1a" stroke-width="0.22">Fold increase</text>
<text x="355.39" y="299.50" font-size="11.89" textLength="43.30" lengthAdjust="spacingAndGlyphs" transform="rotate(-90 355.39 299.50)" stroke="#1a1a1a" stroke-width="0.22">(PBS / LPS)</text>
<rect x="416.70" y="238.30" width="1.4" height="1.4" fill="#333"/>
<rect x="416.70" y="242.03" width="1.4" height="1.4" fill="#333"/>
<rect x="416.70" y="245.76" width="1.4" height="1.4" fill="#333"/>
<rect x="416.70" y="249.49" width="1.4" height="1.4" fill="#333"/>
<rect x="416.70" y="253.22" width="1.4" height="1.4" fill="#333"/>
<rect x="416.70" y="256.95" width="1.4" height="1.4" fill="#333"/>
<rect x="416.70" y="260.68" width="1.4" height="1.4" fill="#333"/>
<rect x="416.70" y="264.41" width="1.4" height="1.4" fill="#333"/>
<rect x="416.70" y="268.14" width="1.4" height="1.4" fill="#333"/>
<rect x="416.70" y="271.87" width="1.4" height="1.4" fill="#333"/>
<rect x="416.70" y="275.60" width="1.4" height="1.4" fill="#333"/>
<rect x="416.70" y="279.33" width="1.4" height="1.4" fill="#333"/>
<rect x="416.70" y="283.06" width="1.4" height="1.4" fill="#333"/>
<rect x="416.70" y="286.79" width="1.4" height="1.4" fill="#333"/>
<rect x="416.70" y="290.52" width="1.4" height="1.4" fill="#333"/>
<rect x="416.70" y="294.25" width="1.4" height="1.4" fill="#333"/>
<rect x="416.70" y="297.98" width="1.4" height="1.4" fill="#333"/>
<rect x="416.70" y="301.71" width="1.4" height="1.4" fill="#333"/>
<rect x="416.70" y="305.44" width="1.4" height="1.4" fill="#333"/>
<rect x="416.70" y="309.17" width="1.4" height="1.4" fill="#333"/>
<rect x="416.70" y="312.90" width="1.4" height="1.4" fill="#333"/>
<rect x="416.70" y="316.63" width="1.4" height="1.4" fill="#333"/>
<rect x="453.80" y="238.30" width="1.4" height="1.4" fill="#333"/>
<rect x="453.80" y="242.03" width="1.4" height="1.4" fill="#333"/>
<rect x="453.80" y="245.76" width="1.4" height="1.4" fill="#333"/>
<rect x="453.80" y="249.49" width="1.4" height="1.4" fill="#333"/>
<rect x="453.80" y="253.22" width="1.4" height="1.4" fill="#333"/>
<rect x="453.80" y="256.95" width="1.4" height="1.4" fill="#333"/>
<rect x="453.80" y="260.68" width="1.4" height="1.4" fill="#333"/>
<rect x="453.80" y="264.41" width="1.4" height="1.4" fill="#333"/>
<rect x="453.80" y="268.14" width="1.4" height="1.4" fill="#333"/>
<rect x="453.80" y="271.87" width="1.4" height="1.4" fill="#333"/>
<rect x="453.80" y="275.60" width="1.4" height="1.4" fill="#333"/>
<rect x="453.80" y="279.33" width="1.4" height="1.4" fill="#333"/>
<rect x="453.80" y="283.06" width="1.4" height="1.4" fill="#333"/>
<rect x="453.80" y="286.79" width="1.4" height="1.4" fill="#333"/>
<rect x="453.80" y="290.52" width="1.4" height="1.4" fill="#333"/>
<rect x="453.80" y="294.25" width="1.4" height="1.4" fill="#333"/>
<rect x="453.80" y="297.98" width="1.4" height="1.4" fill="#333"/>
<rect x="453.80" y="301.71" width="1.4" height="1.4" fill="#333"/>
<rect x="453.80" y="305.44" width="1.4" height="1.4" fill="#333"/>
<rect x="453.80" y="309.17" width="1.4" height="1.4" fill="#333"/>
<rect x="453.80" y="312.90" width="1.4" height="1.4" fill="#333"/>
<rect x="453.80" y="316.63" width="1.4" height="1.4" fill="#333"/>
<rect x="385.70" y="304.30" width="10.80" height="16.30" fill="#2d4a80" stroke="#1f3870" stroke-width="0.6"/>
<rect x="400.90" y="306.10" width="10.70" height="14.50" fill="#a8002c" stroke="#8e0024" stroke-width="0.6"/>
<rect x="423.00" y="312.80" width="10.60" height="7.80" fill="#2d4a80" stroke="#1f3870" stroke-width="0.6"/>
<rect x="438.10" y="314.70" width="10.70" height="5.90" fill="#a8002c" stroke="#8e0024" stroke-width="0.6"/>
<rect x="460.20" y="270.30" width="11.00" height="50.30" fill="#2d4a80" stroke="#1f3870" stroke-width="0.6"/>
<rect x="475.40" y="304.30" width="10.80" height="16.30" fill="#a8002c" stroke="#8e0024" stroke-width="0.6"/>
<line x1="391.3" y1="299" x2="391.3" y2="309" stroke="#000" stroke-width="1.3"/>
<line x1="388.8" y1="299" x2="393.8" y2="299" stroke="#000" stroke-width="1.3"/>
<line x1="388.8" y1="309" x2="393.8" y2="309" stroke="#000" stroke-width="1.3"/>
<line x1="406.2" y1="300.4" x2="406.2" y2="311" stroke="#000" stroke-width="1.3"/>
<line x1="403.7" y1="300.4" x2="408.7" y2="300.4" stroke="#000" stroke-width="1.3"/>
<line x1="403.7" y1="311" x2="408.7" y2="311" stroke="#000" stroke-width="1.3"/>
<line x1="465.7" y1="252.9" x2="465.7" y2="285.8" stroke="#000" stroke-width="1.3"/>
<line x1="463.2" y1="252.9" x2="468.2" y2="252.9" stroke="#000" stroke-width="1.3"/>
<line x1="463.2" y1="285.8" x2="468.2" y2="285.8" stroke="#000" stroke-width="1.3"/>
<line x1="480.8" y1="291.2" x2="480.8" y2="316" stroke="#000" stroke-width="1.3"/>
<line x1="478.3" y1="291.2" x2="483.3" y2="291.2" stroke="#000" stroke-width="1.3"/>
<line x1="478.3" y1="316" x2="483.3" y2="316" stroke="#000" stroke-width="1.3"/>
<circle cx="389.4" cy="297.7" r="1.45" fill="#000"/>
<circle cx="393.5" cy="299.3" r="1.45" fill="#000"/>
<circle cx="387.4" cy="305.8" r="1.45" fill="#000"/>
<circle cx="394.8" cy="305.4" r="1.45" fill="#000"/>
<circle cx="390.8" cy="309.4" r="1.45" fill="#000"/>
<circle cx="392" cy="303" r="1.45" fill="#000"/>
<circle cx="402" cy="300.6" r="1.45" fill="#000"/>
<circle cx="405.6" cy="300.6" r="1.45" fill="#000"/>
<circle cx="410.3" cy="302" r="1.45" fill="#000"/>
<circle cx="406.5" cy="302.7" r="1.45" fill="#000"/>
<circle cx="404.2" cy="312" r="1.45" fill="#000"/>
<circle cx="408.3" cy="312" r="1.45" fill="#000"/>
<circle cx="405" cy="314.8" r="1.45" fill="#000"/>
<circle cx="427.1" cy="311.7" r="1.45" fill="#000"/>
<circle cx="430.8" cy="310.1" r="1.45" fill="#000"/>
<circle cx="428.5" cy="313.4" r="1.45" fill="#000"/>
<circle cx="425.2" cy="313.4" r="1.45" fill="#000"/>
<circle cx="431.5" cy="312.8" r="1.45" fill="#000"/>
<circle cx="440" cy="313.8" r="1.45" fill="#000"/>
<circle cx="443.5" cy="312.8" r="1.45" fill="#000"/>
<circle cx="447" cy="313.8" r="1.45" fill="#000"/>
<circle cx="441.5" cy="316.5" r="1.45" fill="#000"/>
<circle cx="445.5" cy="316.5" r="1.45" fill="#000"/>
<circle cx="465.7" cy="249.8" r="1.45" fill="#000"/>
<circle cx="465.7" cy="254.6" r="1.45" fill="#000"/>
<circle cx="463.4" cy="268.6" r="1.45" fill="#000"/>
<circle cx="468" cy="266.7" r="1.45" fill="#000"/>
<circle cx="465.7" cy="292.8" r="1.45" fill="#000"/>
<circle cx="480.5" cy="279.8" r="1.45" fill="#000"/>
<circle cx="482.8" cy="302.7" r="1.45" fill="#000"/>
<circle cx="476.4" cy="305.3" r="1.45" fill="#000"/>
<circle cx="479.8" cy="308.4" r="1.45" fill="#000"/>
<circle cx="482.8" cy="310.3" r="1.45" fill="#000"/>
<circle cx="480.5" cy="314.8" r="1.45" fill="#000"/>
<line x1="458.5" y1="245.2" x2="489.9" y2="245.2" stroke="#1a1a1a" stroke-width="1.0"/>
<polygon points="472.05,238.80 472.70,239.91 473.95,240.18 473.10,241.14 473.23,242.42 472.05,241.90 470.87,242.42 471.00,241.14 470.15,240.18 471.40,239.91" fill="#222"/>
<polygon points="476.35,238.80 477.00,239.91 478.25,240.18 477.40,241.14 477.53,242.42 476.35,241.90 475.17,242.42 475.30,241.14 474.45,240.18 475.70,239.91" fill="#222"/>
<text x="386.61" y="331.69" font-size="8.17" textLength="9.62" lengthAdjust="spacingAndGlyphs" stroke="#1a1a1a" stroke-width="0.22">wt</text>
<text x="401.08" y="331.69" font-size="8.94" textLength="10.95" lengthAdjust="spacingAndGlyphs" stroke="#1a1a1a" stroke-width="0.22">dn</text>
<text x="423.91" y="331.69" font-size="8.17" textLength="9.82" lengthAdjust="spacingAndGlyphs" stroke="#1a1a1a" stroke-width="0.22">wt</text>
<text x="437.95" y="331.69" font-size="8.94" textLength="11.61" lengthAdjust="spacingAndGlyphs" stroke="#1a1a1a" stroke-width="0.22">dn</text>
<text x="461.11" y="331.69" font-size="8.17" textLength="10.12" lengthAdjust="spacingAndGlyphs" stroke="#1a1a1a" stroke-width="0.22">wt</text>
<text x="475.46" y="331.69" font-size="8.94" textLength="11.39" lengthAdjust="spacingAndGlyphs" stroke="#1a1a1a" stroke-width="0.22">dn</text>
<text x="8.72" y="363.53" font-size="14.17" textLength="10.13" lengthAdjust="spacingAndGlyphs" stroke="#1a1a1a" stroke-width="0.55" font-weight="bold">H</text>
<text x="74.08" y="388.69" font-size="11.58" textLength="86.84" lengthAdjust="spacingAndGlyphs" stroke="#1a1a1a" stroke-width="0.22" font-style="italic">Candida albicans</text>
<line x1="61.0" y1="395.2" x2="61.0" y2="480.20000000000005" stroke="#000" stroke-width="1.3"/>
<line x1="60.4" y1="479.6" x2="173.4" y2="479.6" stroke="#000" stroke-width="1.3"/>
<line x1="57.8" y1="398" x2="61.0" y2="398" stroke="#000" stroke-width="1.2"/>
<text x="38.71" y="400.99" font-size="9.71" textLength="15.66" lengthAdjust="spacingAndGlyphs" stroke="#1a1a1a" stroke-width="0.22">100</text>
<line x1="57.8" y1="414.2" x2="61.0" y2="414.2" stroke="#000" stroke-width="1.2"/>
<text x="44.01" y="417.19" font-size="9.71" textLength="10.36" lengthAdjust="spacingAndGlyphs" stroke="#1a1a1a" stroke-width="0.22">80</text>
<line x1="57.8" y1="430.5" x2="61.0" y2="430.5" stroke="#000" stroke-width="1.2"/>
<text x="44.01" y="433.49" font-size="9.71" textLength="10.36" lengthAdjust="spacingAndGlyphs" stroke="#1a1a1a" stroke-width="0.22">60</text>
<line x1="57.8" y1="446.9" x2="61.0" y2="446.9" stroke="#000" stroke-width="1.2"/>
<text x="44.00" y="449.89" font-size="9.71" textLength="10.36" lengthAdjust="spacingAndGlyphs" stroke="#1a1a1a" stroke-width="0.22">40</text>
<line x1="57.8" y1="463.2" x2="61.0" y2="463.2" stroke="#000" stroke-width="1.2"/>
<text x="44.01" y="466.19" font-size="9.71" textLength="10.36" lengthAdjust="spacingAndGlyphs" stroke="#1a1a1a" stroke-width="0.22">20</text>
<line x1="57.8" y1="479.6" x2="61.0" y2="479.6" stroke="#000" stroke-width="1.2"/>
<text x="49.31" y="482.59" font-size="9.71" textLength="5.04" lengthAdjust="spacingAndGlyphs" stroke="#1a1a1a" stroke-width="0.22">0</text>
<line x1="60.9" y1="479.6" x2="60.9" y2="482.6" stroke="#000" stroke-width="1.0"/>
<text x="58.76" y="494.39" font-size="9.14" textLength="4.88" lengthAdjust="spacingAndGlyphs" stroke="#1a1a1a" stroke-width="0.22">0</text>
<line x1="82.75" y1="479.6" x2="82.75" y2="482.6" stroke="#000" stroke-width="1.0"/>
<text x="76.69" y="494.39" font-size="9.14" textLength="11.10" lengthAdjust="spacingAndGlyphs" stroke="#1a1a1a" stroke-width="0.22">20</text>
<line x1="104.6" y1="479.6" x2="104.6" y2="482.6" stroke="#000" stroke-width="1.0"/>
<text x="99.49" y="494.39" font-size="9.14" textLength="10.38" lengthAdjust="spacingAndGlyphs" stroke="#1a1a1a" stroke-width="0.22">40</text>
<line x1="126.25" y1="479.6" x2="126.25" y2="482.6" stroke="#000" stroke-width="1.0"/>
<text x="120.85" y="494.39" font-size="9.14" textLength="10.94" lengthAdjust="spacingAndGlyphs" stroke="#1a1a1a" stroke-width="0.22">60</text>
<line x1="148" y1="479.6" x2="148" y2="482.6" stroke="#000" stroke-width="1.0"/>
<text x="142.43" y="494.39" font-size="9.14" textLength="10.85" lengthAdjust="spacingAndGlyphs" stroke="#1a1a1a" stroke-width="0.22">80</text>
<line x1="169.6" y1="479.6" x2="169.6" y2="482.6" stroke="#000" stroke-width="1.0"/>
<text x="161.47" y="494.39" font-size="9.14" textLength="16.32" lengthAdjust="spacingAndGlyphs" stroke="#1a1a1a" stroke-width="0.22">100</text>
<text x="32.59" y="459.81" font-size="12.58" textLength="46.43" lengthAdjust="spacingAndGlyphs" transform="rotate(-90 32.59 459.81)" stroke="#1a1a1a" stroke-width="0.22">Survival [%]</text>
<text x="107.80" y="509.64" font-size="10.58" textLength="19.12" lengthAdjust="spacingAndGlyphs" stroke="#1a1a1a" stroke-width="0.22">Days</text>
<path d="M61.6,398.4 H97.8 V404.7 H107.8 V411.6 H123.2 V425.5 H140.7 V431.9 H145.9 V438.7 H169.9" fill="none" stroke="#2e4c8c" stroke-width="1.4"/>
<path d="M97.3,398.4 V415.6 H101.25 V426.7 H112.2 V432.4 H120.3 V444 H129.8 V450.2 H134.65 V455.8 H138.5 V461.8 H151.2 V467.6 H170.2" fill="none" stroke="#a8002c" stroke-width="1.4"/>
<line x1="97.3" y1="399" x2="97.3" y2="404.5" stroke="#000" stroke-width="1.0"/>
<line x1="120.3" y1="434" x2="120.3" y2="438" stroke="#000" stroke-width="1.0"/>
<line x1="169.9" y1="436.9" x2="169.9" y2="440.4" stroke="#000" stroke-width="1.1"/>
<line x1="170.2" y1="465.8" x2="170.2" y2="469.4" stroke="#000" stroke-width="1.1"/>
<text x="167.21" y="435.09" font-size="7.71" textLength="9.22" lengthAdjust="spacingAndGlyphs" fill="#2e4c8c" stroke="#2e4c8c" stroke-width="0.22">wt</text>
<text x="176.89" y="431.19" font-size="5.78" textLength="3.12" lengthAdjust="spacingAndGlyphs" fill="#2e4c8c" stroke="#2e4c8c" stroke-width="0.22">T</text>
<text x="165.39" y="463.99" font-size="7.83" textLength="10.61" lengthAdjust="spacingAndGlyphs" fill="#b4103e" stroke="#b4103e" stroke-width="0.22">dn</text>
<text x="67.13" y="469.89" font-size="8.14" textLength="42.72" lengthAdjust="spacingAndGlyphs" stroke="#1a1a1a" stroke-width="0.22" font-style="italic">p = 0.0413</text>
<text x="198.45" y="363.23" font-size="13.30" textLength="3.38" lengthAdjust="spacingAndGlyphs" stroke="#1a1a1a" stroke-width="0.55" font-weight="bold">I</text>
<use href="#mouse" x="201.3" y="367.4" width="36" height="32"/>
<use href="#mouse" x="294.7" y="367.5" width="36" height="32"/>
<text x="214.01" y="409.89" font-size="8.72" textLength="9.92" lengthAdjust="spacingAndGlyphs" fill="#2e4c8c" stroke="#2e4c8c" stroke-width="0.22">wt</text>
<text x="295.60" y="409.79" font-size="9.08" textLength="33.65" lengthAdjust="spacingAndGlyphs" fill="#b4103e" stroke="#b4103e" stroke-width="0.22">dnTCF4</text>
<text x="213.86" y="420.39" font-size="9.13" textLength="46.18" lengthAdjust="spacingAndGlyphs" stroke="#1a1a1a" stroke-width="0.22">150 mg/kg</text>
<text x="213.73" y="431.89" font-size="9.85" textLength="20.89" lengthAdjust="spacingAndGlyphs" stroke="#1a1a1a" stroke-width="0.22">5-FU</text>
<text x="213.40" y="442.89" font-size="9.63" textLength="13.93" lengthAdjust="spacingAndGlyphs" stroke="#1a1a1a" stroke-width="0.22">i.p.</text>
<line x1="212.9" y1="453.6" x2="212.9" y2="468.4" stroke="#000" stroke-width="1.35"/>
<path d="M210.20,465.00 L212.90,471.40 L215.60,465.00 L212.90,466.80 Z" fill="#000"/>
<line x1="251" y1="453.6" x2="251" y2="468.4" stroke="#000" stroke-width="1.35"/>
<path d="M248.30,465.00 L251.00,471.40 L253.70,465.00 L251.00,466.80 Z" fill="#000"/>
<line x1="288.8" y1="453.6" x2="288.8" y2="468.4" stroke="#000" stroke-width="1.35"/>
<path d="M286.10,465.00 L288.80,471.40 L291.50,465.00 L288.80,466.80 Z" fill="#000"/>
<line x1="326.5" y1="453.6" x2="326.5" y2="468.4" stroke="#000" stroke-width="1.35"/>
<path d="M323.80,465.00 L326.50,471.40 L329.20,465.00 L326.50,466.80 Z" fill="#000"/>
<line x1="212.9" y1="479.6" x2="326.5" y2="479.6" stroke="#000" stroke-width="1.5"/>
<line x1="212.9" y1="476.2" x2="212.9" y2="482.8" stroke="#000" stroke-width="1.0"/>
<line x1="231.7" y1="476.2" x2="231.7" y2="482.8" stroke="#000" stroke-width="1.0"/>
<line x1="251" y1="476.2" x2="251" y2="482.8" stroke="#000" stroke-width="1.0"/>
<line x1="269.7" y1="476.2" x2="269.7" y2="482.8" stroke="#000" stroke-width="1.0"/>
<line x1="288.8" y1="476.2" x2="288.8" y2="482.8" stroke="#000" stroke-width="1.0"/>
<line x1="307.4" y1="476.2" x2="307.4" y2="482.8" stroke="#000" stroke-width="1.0"/>
<line x1="326.5" y1="476.2" x2="326.5" y2="482.8" stroke="#000" stroke-width="1.0"/>
<text x="209.97" y="494.79" font-size="9.71" textLength="6.05" lengthAdjust="spacingAndGlyphs" stroke="#1a1a1a" stroke-width="0.22">0</text>
<text x="228.98" y="494.79" font-size="9.85" textLength="5.64" lengthAdjust="spacingAndGlyphs" stroke="#1a1a1a" stroke-width="0.22">7</text>
<text x="245.93" y="494.79" font-size="9.85" textLength="10.02" lengthAdjust="spacingAndGlyphs" stroke="#1a1a1a" stroke-width="0.22">14</text>
<text x="264.52" y="494.79" font-size="9.71" textLength="10.42" lengthAdjust="spacingAndGlyphs" stroke="#1a1a1a" stroke-width="0.22">21</text>
<text x="283.61" y="494.79" font-size="9.71" textLength="10.60" lengthAdjust="spacingAndGlyphs" stroke="#1a1a1a" stroke-width="0.22">28</text>
<text x="302.44" y="494.79" font-size="9.71" textLength="10.33" lengthAdjust="spacingAndGlyphs" stroke="#1a1a1a" stroke-width="0.22">35</text>
<text x="321.28" y="494.79" font-size="9.71" textLength="10.61" lengthAdjust="spacingAndGlyphs" stroke="#1a1a1a" stroke-width="0.22">42</text>
<text x="263.00" y="509.89" font-size="10.58" textLength="19.18" lengthAdjust="spacingAndGlyphs" stroke="#1a1a1a" stroke-width="0.22">Days</text>
<text x="350.30" y="363.53" font-size="13.74" textLength="6.07" lengthAdjust="spacingAndGlyphs" stroke="#1a1a1a" stroke-width="0.55" font-weight="bold">J</text>
<line x1="402.6" y1="394.7" x2="402.6" y2="479.90000000000003" stroke="#000" stroke-width="1.3"/>
<line x1="402.0" y1="479.3" x2="512.1" y2="479.3" stroke="#000" stroke-width="1.3"/>
<line x1="399.40000000000003" y1="397.7" x2="402.6" y2="397.7" stroke="#000" stroke-width="1.2"/>
<text x="390.65" y="400.69" font-size="9.71" textLength="5.04" lengthAdjust="spacingAndGlyphs" stroke="#1a1a1a" stroke-width="0.22">8</text>
<line x1="399.40000000000003" y1="418.4" x2="402.6" y2="418.4" stroke="#000" stroke-width="1.2"/>
<text x="390.66" y="421.39" font-size="9.71" textLength="5.03" lengthAdjust="spacingAndGlyphs" stroke="#1a1a1a" stroke-width="0.22">6</text>
<line x1="399.40000000000003" y1="438.8" x2="402.6" y2="438.8" stroke="#000" stroke-width="1.2"/>
<text x="390.42" y="441.79" font-size="9.85" textLength="5.13" lengthAdjust="spacingAndGlyphs" stroke="#1a1a1a" stroke-width="0.22">4</text>
<line x1="399.40000000000003" y1="459.1" x2="402.6" y2="459.1" stroke="#000" stroke-width="1.2"/>
<text x="390.73" y="462.09" font-size="9.71" textLength="5.03" lengthAdjust="spacingAndGlyphs" stroke="#1a1a1a" stroke-width="0.22">2</text>
<line x1="399.40000000000003" y1="479.3" x2="402.6" y2="479.3" stroke="#000" stroke-width="1.2"/>
<text x="390.61" y="482.29" font-size="9.71" textLength="5.04" lengthAdjust="spacingAndGlyphs" stroke="#1a1a1a" stroke-width="0.22">0</text>
<text x="370.09" y="460.26" font-size="11.60" textLength="46.47" lengthAdjust="spacingAndGlyphs" transform="rotate(-90 370.09 460.26)" stroke="#1a1a1a" stroke-width="0.22">Neutrophils</text>
<text x="383.79" y="464.38" font-size="11.31" textLength="39.54" lengthAdjust="spacingAndGlyphs" transform="rotate(-90 383.79 464.38)" stroke="#1a1a1a" stroke-width="0.22">in PB x 10</text>
<text x="378.99" y="424.31" font-size="7.99" textLength="3.72" lengthAdjust="spacingAndGlyphs" transform="rotate(-90 378.99 424.31)" stroke="#1a1a1a" stroke-width="0.22">9</text>
<text x="383.79" y="418.69" font-size="11.31" textLength="9.14" lengthAdjust="spacingAndGlyphs" transform="rotate(-90 383.79 418.69)" stroke="#1a1a1a" stroke-width="0.22">/ L</text>
<rect x="437.30" y="397.30" width="1.4" height="1.4" fill="#333"/>
<rect x="437.30" y="401.03" width="1.4" height="1.4" fill="#333"/>
<rect x="437.30" y="404.76" width="1.4" height="1.4" fill="#333"/>
<rect x="437.30" y="408.49" width="1.4" height="1.4" fill="#333"/>
<rect x="437.30" y="412.22" width="1.4" height="1.4" fill="#333"/>
<rect x="437.30" y="415.95" width="1.4" height="1.4" fill="#333"/>
<rect x="437.30" y="419.68" width="1.4" height="1.4" fill="#333"/>
<rect x="437.30" y="423.41" width="1.4" height="1.4" fill="#333"/>
<rect x="437.30" y="427.14" width="1.4" height="1.4" fill="#333"/>
<rect x="437.30" y="430.87" width="1.4" height="1.4" fill="#333"/>
<rect x="437.30" y="434.60" width="1.4" height="1.4" fill="#333"/>
<rect x="437.30" y="438.33" width="1.4" height="1.4" fill="#333"/>
<rect x="437.30" y="442.06" width="1.4" height="1.4" fill="#333"/>
<rect x="437.30" y="445.79" width="1.4" height="1.4" fill="#333"/>
<rect x="437.30" y="449.52" width="1.4" height="1.4" fill="#333"/>
<rect x="437.30" y="453.25" width="1.4" height="1.4" fill="#333"/>
<rect x="437.30" y="456.98" width="1.4" height="1.4" fill="#333"/>
<rect x="437.30" y="460.71" width="1.4" height="1.4" fill="#333"/>
<rect x="437.30" y="464.44" width="1.4" height="1.4" fill="#333"/>
<rect x="437.30" y="468.17" width="1.4" height="1.4" fill="#333"/>
<rect x="437.30" y="471.90" width="1.4" height="1.4" fill="#333"/>
<rect x="437.30" y="475.63" width="1.4" height="1.4" fill="#333"/>
<rect x="474.50" y="397.30" width="1.4" height="1.4" fill="#333"/>
<rect x="474.50" y="401.03" width="1.4" height="1.4" fill="#333"/>
<rect x="474.50" y="404.76" width="1.4" height="1.4" fill="#333"/>
<rect x="474.50" y="408.49" width="1.4" height="1.4" fill="#333"/>
<rect x="474.50" y="412.22" width="1.4" height="1.4" fill="#333"/>
<rect x="474.50" y="415.95" width="1.4" height="1.4" fill="#333"/>
<rect x="474.50" y="419.68" width="1.4" height="1.4" fill="#333"/>
<rect x="474.50" y="423.41" width="1.4" height="1.4" fill="#333"/>
<rect x="474.50" y="427.14" width="1.4" height="1.4" fill="#333"/>
<rect x="474.50" y="430.87" width="1.4" height="1.4" fill="#333"/>
<rect x="474.50" y="434.60" width="1.4" height="1.4" fill="#333"/>
<rect x="474.50" y="438.33" width="1.4" height="1.4" fill="#333"/>
<rect x="474.50" y="442.06" width="1.4" height="1.4" fill="#333"/>
<rect x="474.50" y="445.79" width="1.4" height="1.4" fill="#333"/>
<rect x="474.50" y="449.52" width="1.4" height="1.4" fill="#333"/>
<rect x="474.50" y="453.25" width="1.4" height="1.4" fill="#333"/>
<rect x="474.50" y="456.98" width="1.4" height="1.4" fill="#333"/>
<rect x="474.50" y="460.71" width="1.4" height="1.4" fill="#333"/>
<rect x="474.50" y="464.44" width="1.4" height="1.4" fill="#333"/>
<rect x="474.50" y="468.17" width="1.4" height="1.4" fill="#333"/>
<rect x="474.50" y="471.90" width="1.4" height="1.4" fill="#333"/>
<rect x="474.50" y="475.63" width="1.4" height="1.4" fill="#333"/>
<rect x="406.60" y="465.00" width="11.00" height="14.30" fill="#2d4a80" stroke="#1f3870" stroke-width="0.6"/>
<rect x="421.40" y="470.40" width="11.00" height="8.90" fill="#a8002c" stroke="#8e0024" stroke-width="0.6"/>
<rect x="444.00" y="478.60" width="9.40" height="0.70" fill="#2d4a80" stroke="#1f3870" stroke-width="0.6"/>
<rect x="458.60" y="478.60" width="11.00" height="0.70" fill="#a8002c" stroke="#8e0024" stroke-width="0.6"/>
<rect x="481.00" y="439.40" width="10.70" height="39.90" fill="#2d4a80" stroke="#1f3870" stroke-width="0.6"/>
<rect x="496.10" y="467.30" width="10.80" height="12.00" fill="#a8002c" stroke="#8e0024" stroke-width="0.6"/>
<line x1="412" y1="460.7" x2="412" y2="468.5" stroke="#000" stroke-width="1.3"/>
<line x1="409.5" y1="460.7" x2="414.5" y2="460.7" stroke="#000" stroke-width="1.3"/>
<line x1="409.5" y1="468.5" x2="414.5" y2="468.5" stroke="#000" stroke-width="1.3"/>
<line x1="426.9" y1="466.7" x2="426.9" y2="473.5" stroke="#000" stroke-width="1.3"/>
<line x1="424.4" y1="466.7" x2="429.4" y2="466.7" stroke="#000" stroke-width="1.3"/>
<line x1="424.4" y1="473.5" x2="429.4" y2="473.5" stroke="#000" stroke-width="1.3"/>
<line x1="464.1" y1="472.4" x2="464.1" y2="479" stroke="#000" stroke-width="1.3"/>
<line x1="461.6" y1="472.4" x2="466.6" y2="472.4" stroke="#000" stroke-width="1.3"/>
<line x1="461.6" y1="479" x2="466.6" y2="479" stroke="#000" stroke-width="1.3"/>
<line x1="486.3" y1="413.6" x2="486.3" y2="464.3" stroke="#000" stroke-width="1.3"/>
<line x1="483.8" y1="413.6" x2="488.8" y2="413.6" stroke="#000" stroke-width="1.3"/>
<line x1="483.8" y1="464.3" x2="488.8" y2="464.3" stroke="#000" stroke-width="1.3"/>
<line x1="501.5" y1="458.6" x2="501.5" y2="475" stroke="#000" stroke-width="1.3"/>
<line x1="499.0" y1="458.6" x2="504.0" y2="458.6" stroke="#000" stroke-width="1.3"/>
<line x1="499.0" y1="475" x2="504.0" y2="475" stroke="#000" stroke-width="1.3"/>
<circle cx="408.1" cy="460.7" r="1.45" fill="#000"/>
<circle cx="411.5" cy="461.3" r="1.45" fill="#000"/>
<circle cx="417.5" cy="461.3" r="1.45" fill="#000"/>
<circle cx="408.1" cy="465.4" r="1.45" fill="#000"/>
<circle cx="411.5" cy="466" r="1.45" fill="#000"/>
<circle cx="414.8" cy="464" r="1.45" fill="#000"/>
<circle cx="411.5" cy="470.8" r="1.45" fill="#000"/>
<circle cx="427" cy="463.4" r="1.45" fill="#000"/>
<circle cx="423.6" cy="468.7" r="1.45" fill="#000"/>
<circle cx="430.3" cy="467.4" r="1.45" fill="#000"/>
<circle cx="424.9" cy="470.8" r="1.45" fill="#000"/>
<circle cx="429.6" cy="470.8" r="1.45" fill="#000"/>
<circle cx="426.3" cy="473.4" r="1.45" fill="#000"/>
<circle cx="445.5" cy="478" r="1.45" fill="#000"/>
<circle cx="449" cy="478.3" r="1.45" fill="#000"/>
<circle cx="452" cy="478" r="1.45" fill="#000"/>
<circle cx="464.1" cy="465.4" r="1.45" fill="#000"/>
<circle cx="460.5" cy="478.6" r="1.45" fill="#000"/>
<circle cx="464.2" cy="479" r="1.45" fill="#000"/>
<circle cx="467.8" cy="478.6" r="1.45" fill="#000"/>
<circle cx="484.3" cy="408.6" r="1.45" fill="#000"/>
<circle cx="488.4" cy="407.2" r="1.45" fill="#000"/>
<circle cx="486.3" cy="429.7" r="1.45" fill="#000"/>
<circle cx="484.3" cy="449.2" r="1.45" fill="#000"/>
<circle cx="486.3" cy="448.1" r="1.45" fill="#000"/>
<circle cx="488.4" cy="453.9" r="1.45" fill="#000"/>
<circle cx="486.3" cy="477.2" r="1.45" fill="#000"/>
<circle cx="499.5" cy="457.3" r="1.45" fill="#000"/>
<circle cx="503.5" cy="458" r="1.45" fill="#000"/>
<circle cx="501.1" cy="463.8" r="1.45" fill="#000"/>
<circle cx="499.1" cy="470.8" r="1.45" fill="#000"/>
<circle cx="503.2" cy="470.8" r="1.45" fill="#000"/>
<circle cx="499.8" cy="475" r="1.45" fill="#000"/>
<line x1="404.7" y1="444.5" x2="435.4" y2="444.5" stroke="#1a1a1a" stroke-width="1.0"/>
<polygon points="417.90,438.20 418.55,439.31 419.80,439.58 418.95,440.54 419.08,441.82 417.90,441.30 416.72,441.82 416.85,440.54 416.00,439.58 417.25,439.31" fill="#222"/>
<polygon points="422.20,438.20 422.85,439.31 424.10,439.58 423.25,440.54 423.38,441.82 422.20,441.30 421.02,441.82 421.15,440.54 420.30,439.58 421.55,439.31" fill="#222"/>
<line x1="479.6" y1="402.4" x2="510.6" y2="402.4" stroke="#1a1a1a" stroke-width="1.0"/>
<polygon points="495.10,396.10 495.75,397.21 497.00,397.48 496.15,398.44 496.28,399.72 495.10,399.20 493.92,399.72 494.05,398.44 493.20,397.48 494.45,397.21" fill="#222"/>
<text x="416.40" y="490.99" font-size="8.85" textLength="5.64" lengthAdjust="spacingAndGlyphs" stroke="#1a1a1a" stroke-width="0.22">0</text>
<text x="454.15" y="490.99" font-size="8.98" textLength="4.90" lengthAdjust="spacingAndGlyphs" stroke="#1a1a1a" stroke-width="0.22">7</text>
<text x="489.26" y="490.99" font-size="8.98" textLength="9.58" lengthAdjust="spacingAndGlyphs" stroke="#1a1a1a" stroke-width="0.22">14</text>
<line x1="402" y1="496.6" x2="511" y2="496.6" stroke="#000" stroke-width="1.2"/>
<text x="427.11" y="509.39" font-size="10.29" textLength="58.72" lengthAdjust="spacingAndGlyphs" stroke="#1a1a1a" stroke-width="0.22">Days after 5-FU</text>
<text x="8.36" y="541.93" font-size="14.32" textLength="9.70" lengthAdjust="spacingAndGlyphs" stroke="#1a1a1a" stroke-width="0.55" font-weight="bold">K</text>
<line x1="61.0" y1="564.4" x2="61.0" y2="646.9" stroke="#000" stroke-width="1.3"/>
<line x1="60.4" y1="646.3" x2="170.2" y2="646.3" stroke="#000" stroke-width="1.3"/>
<line x1="57.8" y1="571.9" x2="61.0" y2="571.9" stroke="#000" stroke-width="1.2"/>
<text x="38.71" y="574.89" font-size="9.71" textLength="15.66" lengthAdjust="spacingAndGlyphs" stroke="#1a1a1a" stroke-width="0.22">100</text>
<line x1="57.8" y1="587" x2="61.0" y2="587" stroke="#000" stroke-width="1.2"/>
<text x="44.01" y="589.99" font-size="9.71" textLength="10.36" lengthAdjust="spacingAndGlyphs" stroke="#1a1a1a" stroke-width="0.22">80</text>
<line x1="57.8" y1="601.6" x2="61.0" y2="601.6" stroke="#000" stroke-width="1.2"/>
<text x="44.01" y="604.59" font-size="9.71" textLength="10.36" lengthAdjust="spacingAndGlyphs" stroke="#1a1a1a" stroke-width="0.22">60</text>
<line x1="57.8" y1="616.6" x2="61.0" y2="616.6" stroke="#000" stroke-width="1.2"/>
<text x="44.00" y="619.59" font-size="9.71" textLength="10.36" lengthAdjust="spacingAndGlyphs" stroke="#1a1a1a" stroke-width="0.22">40</text>
<line x1="57.8" y1="631.2" x2="61.0" y2="631.2" stroke="#000" stroke-width="1.2"/>
<text x="44.01" y="634.19" font-size="9.71" textLength="10.36" lengthAdjust="spacingAndGlyphs" stroke="#1a1a1a" stroke-width="0.22">20</text>
<line x1="57.8" y1="646.3" x2="61.0" y2="646.3" stroke="#000" stroke-width="1.2"/>
<text x="49.31" y="649.29" font-size="9.71" textLength="5.04" lengthAdjust="spacingAndGlyphs" stroke="#1a1a1a" stroke-width="0.22">0</text>
<text x="31.39" y="641.62" font-size="10.04" textLength="73.18" lengthAdjust="spacingAndGlyphs" transform="rotate(-90 31.39 641.62)" stroke="#1a1a1a" stroke-width="0.22">% of initital weight</text>
<line x1="70.1" y1="646.3" x2="70.1" y2="649.8" stroke="#000" stroke-width="1.0"/>
<line x1="88.2" y1="646.3" x2="88.2" y2="649.8" stroke="#000" stroke-width="1.0"/>
<line x1="106.4" y1="646.3" x2="106.4" y2="649.8" stroke="#000" stroke-width="1.0"/>
<line x1="124.3" y1="646.3" x2="124.3" y2="649.8" stroke="#000" stroke-width="1.0"/>
<line x1="142.5" y1="646.3" x2="142.5" y2="649.8" stroke="#000" stroke-width="1.0"/>
<line x1="160.6" y1="646.3" x2="160.6" y2="649.8" stroke="#000" stroke-width="1.0"/>
<text x="67.51" y="661.19" font-size="9.28" textLength="5.58" lengthAdjust="spacingAndGlyphs" stroke="#1a1a1a" stroke-width="0.22">0</text>
<text x="85.31" y="661.19" font-size="9.42" textLength="5.39" lengthAdjust="spacingAndGlyphs" stroke="#1a1a1a" stroke-width="0.22">7</text>
<text x="101.86" y="661.19" font-size="9.42" textLength="9.58" lengthAdjust="spacingAndGlyphs" stroke="#1a1a1a" stroke-width="0.22">14</text>
<text x="119.37" y="661.19" font-size="9.28" textLength="9.43" lengthAdjust="spacingAndGlyphs" stroke="#1a1a1a" stroke-width="0.22">21</text>
<text x="137.54" y="661.19" font-size="9.28" textLength="10.16" lengthAdjust="spacingAndGlyphs" stroke="#1a1a1a" stroke-width="0.22">28</text>
<text x="155.53" y="661.19" font-size="9.28" textLength="10.54" lengthAdjust="spacingAndGlyphs" stroke="#1a1a1a" stroke-width="0.22">35</text>
<text x="106.42" y="676.59" font-size="10.29" textLength="18.75" lengthAdjust="spacingAndGlyphs" stroke="#1a1a1a" stroke-width="0.22">Days</text>
<line x1="106.4" y1="583.8" x2="106.4" y2="591.3" stroke="#000" stroke-width="1.3"/>
<line x1="104.80000000000001" y1="583.8" x2="108.0" y2="583.8" stroke="#000" stroke-width="1.3"/>
<line x1="104.80000000000001" y1="591.3" x2="108.0" y2="591.3" stroke="#000" stroke-width="1.3"/>
<line x1="142.5" y1="584" x2="142.5" y2="590.4" stroke="#000" stroke-width="1.3"/>
<line x1="140.9" y1="584" x2="144.1" y2="584" stroke="#000" stroke-width="1.3"/>
<line x1="140.9" y1="590.4" x2="144.1" y2="590.4" stroke="#000" stroke-width="1.3"/>
<line x1="160.6" y1="575.7" x2="160.6" y2="633.5" stroke="#000" stroke-width="1.3"/>
<line x1="158.5" y1="575.7" x2="162.7" y2="575.7" stroke="#000" stroke-width="1.3"/>
<line x1="158.5" y1="633.5" x2="162.7" y2="633.5" stroke="#000" stroke-width="1.3"/>
<polyline points="88.2,572.25 106.4,587.3 124.3,582.7 142.5,587.5 160.6,604.4" fill="none" stroke="#a8002c" stroke-width="1.3"/>
<rect x="104.60000000000001" y="585.5" width="3.6" height="3.6" fill="#a8002c"/>
<rect x="122.5" y="580.9000000000001" width="3.6" height="3.6" fill="#a8002c"/>
<rect x="140.7" y="585.7" width="3.6" height="3.6" fill="#a8002c"/>
<rect x="158.79999999999998" y="602.6" width="3.6" height="3.6" fill="#a8002c"/>
<polyline points="70.1,572.25 88.2,572.25 106.4,573.3 124.3,572.7 142.5,573.5 160.6,571.2" fill="none" stroke="#2e4c8c" stroke-width="1.3"/>
<rect x="68.3" y="570.45" width="3.6" height="3.6" fill="#24427e"/>
<rect x="86.4" y="570.45" width="3.6" height="3.6" fill="#24427e"/>
<rect x="104.60000000000001" y="571.5" width="3.6" height="3.6" fill="#24427e"/>
<rect x="122.5" y="570.9000000000001" width="3.6" height="3.6" fill="#24427e"/>
<rect x="140.7" y="571.7" width="3.6" height="3.6" fill="#24427e"/>
<rect x="158.79999999999998" y="569.4000000000001" width="3.6" height="3.6" fill="#24427e"/>
<polygon points="102.90,565.30 103.48,566.30 104.61,566.54 103.84,567.41 103.96,568.56 102.90,568.09 101.84,568.56 101.96,567.41 101.19,566.54 102.32,566.30" fill="#222"/>
<polygon points="106.50,565.30 107.08,566.30 108.21,566.54 107.44,567.41 107.56,568.56 106.50,568.09 105.44,568.56 105.56,567.41 104.79,566.54 105.92,566.30" fill="#222"/>
<polygon points="110.10,565.30 110.68,566.30 111.81,566.54 111.04,567.41 111.16,568.56 110.10,568.09 109.04,568.56 109.16,567.41 108.39,566.54 109.52,566.30" fill="#222"/>
<polygon points="118.95,558.30 119.53,559.30 120.66,559.54 119.89,560.41 120.01,561.56 118.95,561.09 117.89,561.56 118.01,560.41 117.24,559.54 118.37,559.30" fill="#222"/>
<polygon points="122.75,558.30 123.33,559.30 124.46,559.54 123.69,560.41 123.81,561.56 122.75,561.09 121.69,561.56 121.81,560.41 121.04,559.54 122.17,559.30" fill="#222"/>
<polygon points="126.55,558.30 127.13,559.30 128.26,559.54 127.49,560.41 127.61,561.56 126.55,561.09 125.49,561.56 125.61,560.41 124.84,559.54 125.97,559.30" fill="#222"/>
<polygon points="130.35,558.30 130.93,559.30 132.06,559.54 131.29,560.41 131.41,561.56 130.35,561.09 129.29,561.56 129.41,560.41 128.64,559.54 129.77,559.30" fill="#222"/>
<polygon points="138.95,565.20 139.53,566.20 140.66,566.44 139.89,567.31 140.01,568.46 138.95,567.99 137.89,568.46 138.01,567.31 137.24,566.44 138.37,566.20" fill="#222"/>
<polygon points="142.55,565.20 143.13,566.20 144.26,566.44 143.49,567.31 143.61,568.46 142.55,567.99 141.49,568.46 141.61,567.31 140.84,566.44 141.97,566.20" fill="#222"/>
<polygon points="146.15,565.20 146.73,566.20 147.86,566.44 147.09,567.31 147.21,568.46 146.15,567.99 145.09,568.46 145.21,567.31 144.44,566.44 145.57,566.20" fill="#222"/>
<text x="188.71" y="541.73" font-size="14.03" textLength="6.86" lengthAdjust="spacingAndGlyphs" stroke="#1a1a1a" stroke-width="0.55" font-weight="bold">L</text>
<text x="282.17" y="554.99" font-size="11.45" textLength="24.59" lengthAdjust="spacingAndGlyphs" stroke="#1a1a1a" stroke-width="0.22">5-FU</text>
<line x1="238.1" y1="561.4" x2="238.1" y2="647.1" stroke="#000" stroke-width="1.3"/>
<line x1="237.5" y1="646.5" x2="350.3" y2="646.5" stroke="#000" stroke-width="1.3"/>
<line x1="234.9" y1="564.8" x2="238.1" y2="564.8" stroke="#000" stroke-width="1.2"/>
<text x="215.11" y="567.79" font-size="9.71" textLength="15.66" lengthAdjust="spacingAndGlyphs" stroke="#1a1a1a" stroke-width="0.22">100</text>
<line x1="234.9" y1="581.2" x2="238.1" y2="581.2" stroke="#000" stroke-width="1.2"/>
<text x="220.41" y="584.19" font-size="9.71" textLength="10.36" lengthAdjust="spacingAndGlyphs" stroke="#1a1a1a" stroke-width="0.22">80</text>
<line x1="234.9" y1="597.4" x2="238.1" y2="597.4" stroke="#000" stroke-width="1.2"/>
<text x="220.41" y="600.39" font-size="9.71" textLength="10.36" lengthAdjust="spacingAndGlyphs" stroke="#1a1a1a" stroke-width="0.22">60</text>
<line x1="234.9" y1="613.7" x2="238.1" y2="613.7" stroke="#000" stroke-width="1.2"/>
<text x="220.40" y="616.69" font-size="9.71" textLength="10.36" lengthAdjust="spacingAndGlyphs" stroke="#1a1a1a" stroke-width="0.22">40</text>
<line x1="234.9" y1="630.1" x2="238.1" y2="630.1" stroke="#000" stroke-width="1.2"/>
<text x="220.41" y="633.09" font-size="9.71" textLength="10.36" lengthAdjust="spacingAndGlyphs" stroke="#1a1a1a" stroke-width="0.22">20</text>
<line x1="234.9" y1="646.5" x2="238.1" y2="646.5" stroke="#000" stroke-width="1.2"/>
<text x="225.71" y="649.49" font-size="9.71" textLength="5.04" lengthAdjust="spacingAndGlyphs" stroke="#1a1a1a" stroke-width="0.22">0</text>
<text x="209.69" y="626.91" font-size="13.15" textLength="46.22" lengthAdjust="spacingAndGlyphs" transform="rotate(-90 209.69 626.91)" stroke="#1a1a1a" stroke-width="0.22">Survival [%]</text>
<line x1="237.8" y1="646.5" x2="237.8" y2="649.8" stroke="#000" stroke-width="1.0"/>
<text x="235.49" y="661.19" font-size="9.28" textLength="5.82" lengthAdjust="spacingAndGlyphs" stroke="#1a1a1a" stroke-width="0.22">0</text>
<line x1="274.4" y1="646.5" x2="274.4" y2="649.8" stroke="#000" stroke-width="1.0"/>
<text x="268.78" y="661.19" font-size="9.28" textLength="11.32" lengthAdjust="spacingAndGlyphs" stroke="#1a1a1a" stroke-width="0.22">20</text>
<line x1="310.3" y1="646.5" x2="310.3" y2="649.8" stroke="#000" stroke-width="1.0"/>
<text x="305.37" y="661.19" font-size="9.28" textLength="10.91" lengthAdjust="spacingAndGlyphs" stroke="#1a1a1a" stroke-width="0.22">40</text>
<line x1="346.5" y1="646.5" x2="346.5" y2="649.8" stroke="#000" stroke-width="1.0"/>
<text x="340.97" y="661.19" font-size="9.28" textLength="11.54" lengthAdjust="spacingAndGlyphs" stroke="#1a1a1a" stroke-width="0.22">60</text>
<text x="285.45" y="676.69" font-size="10.44" textLength="18.02" lengthAdjust="spacingAndGlyphs" stroke="#1a1a1a" stroke-width="0.22">Days</text>
<path d="M238.7,565.3 H347.1" fill="none" stroke="#2e4c8c" stroke-width="1.4"/>
<path d="M238.7,565.4 H261.6 V585.1 H315.9 V604.9 H317.5 V625.7 H347.1" fill="none" stroke="#a8002c" stroke-width="1.4"/>
<line x1="347.1" y1="563.4" x2="347.1" y2="567" stroke="#000" stroke-width="1.1"/>
<line x1="347.1" y1="623.9" x2="347.1" y2="627.5" stroke="#000" stroke-width="1.1"/>
<line x1="261.6" y1="583.5" x2="261.6" y2="586.5" stroke="#000" stroke-width="1.0"/>
<line x1="315.9" y1="603" x2="315.9" y2="606" stroke="#000" stroke-width="1.0"/>
<text x="335.41" y="577.39" font-size="8.02" textLength="10.02" lengthAdjust="spacingAndGlyphs" fill="#2e4c8c" stroke="#2e4c8c" stroke-width="0.22">wt</text>
<text x="345.48" y="573.59" font-size="6.66" textLength="3.23" lengthAdjust="spacingAndGlyphs" fill="#2e4c8c" stroke="#2e4c8c" stroke-width="0.22">T</text>
<text x="337.88" y="620.89" font-size="9.21" textLength="10.84" lengthAdjust="spacingAndGlyphs" fill="#b4103e" stroke="#b4103e" stroke-width="0.22">dn</text>
<text x="245.12" y="637.69" font-size="8.35" textLength="42.30" lengthAdjust="spacingAndGlyphs" stroke="#1a1a1a" stroke-width="0.22" font-style="italic">p = 0.0401</text>
</g>
</svg></div></body></html>
